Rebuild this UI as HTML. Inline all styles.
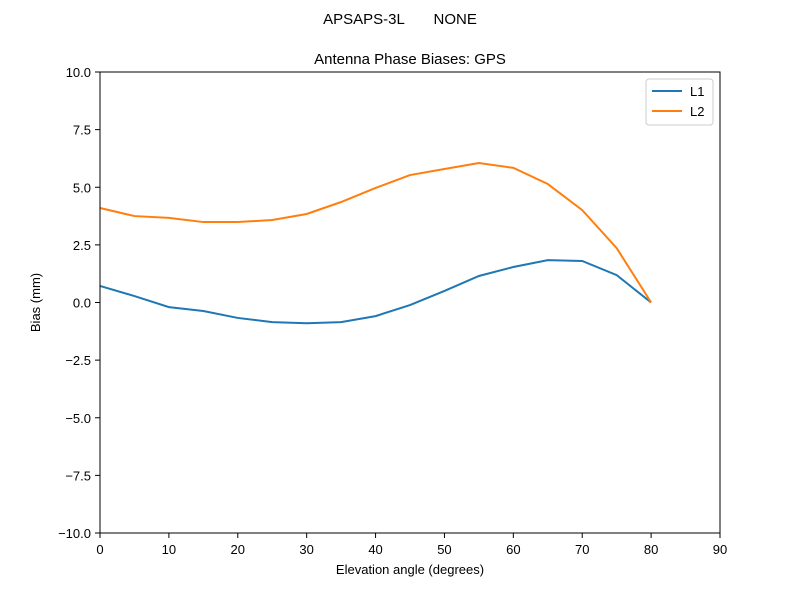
<!DOCTYPE html>
<html><head><meta charset="utf-8"><style>body{margin:0;background:#fff}svg{display:block;font-family:"Liberation Sans",sans-serif}</style></head>
<body>
<svg id="chart" width="800" height="600">
<text x="400" y="24" font-size="15" text-anchor="middle" xml:space="preserve">APSAPS-3L       NONE</text>
<text x="410" y="64" font-size="15" text-anchor="middle">Antenna Phase Biases: GPS</text>
<text x="410" y="574" font-size="13" text-anchor="middle">Elevation angle (degrees)</text>
<text transform="translate(40,302.5) rotate(-90)" font-size="13" text-anchor="middle">Bias (mm)</text>
<g id="axes"></g>
<g id="series"></g>
<rect x="100" y="72" width="620" height="461" fill="none" stroke="#000" stroke-width="1"/>
<g>
<rect x="646" y="79" width="67" height="46" rx="3" fill="#fff" stroke="#ccc"/>
<line x1="652" y1="91" x2="682" y2="91" stroke="#1f77b4" stroke-width="2"/>
<text x="690" y="96" font-size="13">L1</text>
<line x1="652" y1="111" x2="682" y2="111" stroke="#ff7f0e" stroke-width="2"/>
<text x="690" y="116" font-size="13">L2</text>
</g>
</svg>
<script>
const elev=[0,5,10,15,20,25,30,35,40,45,50,55,60,65,70,75,80];
const l1=[0.72,0.28,-0.2,-0.37,-0.67,-0.85,-0.9,-0.85,-0.59,-0.11,0.5,1.15,1.54,1.84,1.8,1.19,0];
const l2=[4.1,3.75,3.67,3.49,3.49,3.58,3.84,4.36,4.97,5.53,5.79,6.05,5.84,5.14,4.01,2.36,0];
const xTicks=[0,10,20,30,40,50,60,70,80,90];
const yTicks=[-10,-7.5,-5,-2.5,0,2.5,5,7.5,10];
const yTickLabels=["\u221210.0","\u22127.5","\u22125.0","\u22122.5","0.0","2.5","5.0","7.5","10.0"];
const X=v=>100+v/90*620, Y=v=>302.5-v/20*461;
const NS="http://www.w3.org/2000/svg";
const axes=document.getElementById('axes'), ser=document.getElementById('series');
function mk(t,a,p){const e=document.createElementNS(NS,t);for(const k in a)e.setAttribute(k,a[k]);p.appendChild(e);return e;}
xTicks.forEach(v=>{const l=mk('line',{x1:X(v),x2:X(v),y1:533,y2:538,stroke:'#000'},axes);


const t=mk('text',{x:X(v),y:554,'font-size':13,'text-anchor':'middle'},axes);t.textContent=v;

});
yTicks.forEach((v,i)=>{const l=mk('line',{x1:95,x2:100,y1:Y(v),y2:Y(v),stroke:'#000'},axes);


const t=mk('text',{x:91,y:Y(v)+5,'font-size':13,'text-anchor':'end'},axes);t.textContent=yTickLabels[i];

});
[[l1,'#1f77b4','line-l1'],[l2,'#ff7f0e','line-l2']].forEach(([d,c,n])=>{
const p=mk('polyline',{points:d.map((v,i)=>X(elev[i])+','+Y(v)).join(' '),fill:'none',stroke:c,'stroke-width':2},ser);

});
</script>
</body></html>
